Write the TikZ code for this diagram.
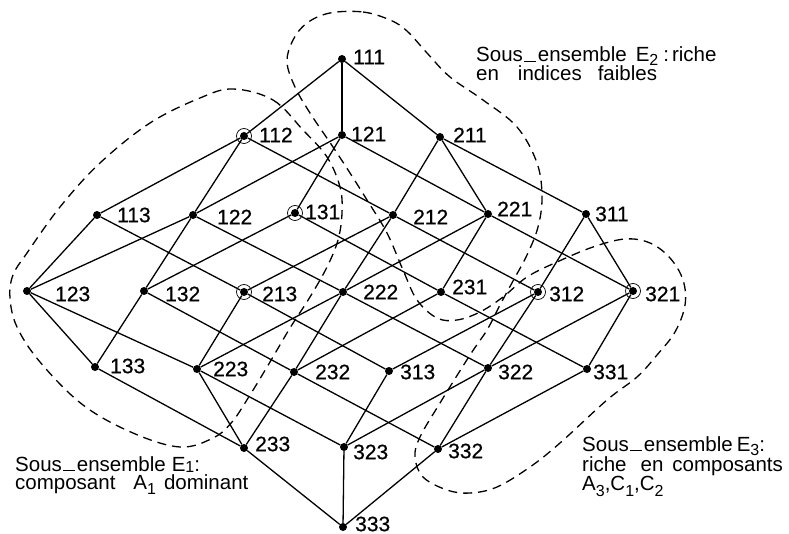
\documentclass[tikz,border=0pt]{standalone}
\usepackage{fontspec}
\newfontfamily\heros{Liberation Sans}
\newfontfamily\herosdark[FakeBold=0.6]{Liberation Sans}
% lowered index digit used in the set names (optional drop)
\newcommand\lowidx[2][5pt]{\raisebox{-#1}[0pt][0pt]{\fontsize{16pt}{16pt}\selectfont #2}}
% short dash sitting on the baseline, as in Sous-ensemble
\newcommand\lowdash{\kern1.5pt\rule{12pt}{1.2pt}\kern1.5pt}
\begin{document}
\begin{tikzpicture}[x=1pt,y=-1pt,
  dot/.style={circle,fill=black,inner sep=0pt,minimum size=8pt},
  ring/.style={line width=0.7pt},
  edge/.style={line width=1.3pt},
  lbl/.style={anchor=west,inner sep=0pt,font=\herosdark\fontsize{21pt}{24pt}\selectfont},
  note/.style={anchor=base west,inner sep=0pt,text height=11pt,text depth=0pt,
    font=\heros\fontsize{20.5pt}{24pt}\selectfont},
  region/.style={line width=1.3pt,dash pattern=on 9pt off 6pt}]
\useasboundingbox (0,0) rectangle (789,534);

% lattice points and their labels
\foreach \n/\x/\y/\lx/\ly in {
  111/342/59/353/57,
  112/244/136/259/135, 121/342/135/351/134, 211/440/137/453/135,
  113/97/215/117/215, 122/193/215/217/217, 131/295/213/305/212,
  212/393/215/413/217, 221/488/214/497/209, 311/586/214/595/214,
  123/27/291/55/294, 132/144/291/165/294, 213/244/292/262/294,
  222/343/292/363/292, 231/441/292/452/287, 312/538/292/549/294,
  321/633/291/645/294,
  133/95/367/110/366, 223/197/369/213/369, 232/294/372/315/372,
  313/389/371/400/372, 322/488/368/498/372, 331/587/369/593/372,
  233/244/448/255/444, 323/344/447/353/452, 332/438/449/448/451,
  333/343/527/355/524}{
  \node[dot] (n\n) at (\x,\y) {};
  \node[lbl] (l\n) at (\lx,\ly) {\n};
}

% covering relations of the product order 3x3x3
\foreach \i in {1,2,3}{\foreach \j in {1,2,3}{\foreach \k in {1,2,3}{
  \pgfmathtruncatemacro\ia{\i+1}
  \pgfmathtruncatemacro\ja{\j+1}
  \pgfmathtruncatemacro\ka{\k+1}
  \ifnum\i<3 \draw[edge] (n\i\j\k) -- (n\ia\j\k);\fi
  \ifnum\j<3 \draw[edge] (n\i\j\k) -- (n\i\ja\k);\fi
  \ifnum\k<3 \draw[edge] (n\i\j\k) -- (n\i\j\ka);\fi
}}}

% marked points
\foreach \n in {112,131,213,312,321}
  \draw[ring] (n\n.center) circle (7.5pt);

% subset E1
\draw[region] plot[smooth cycle,tension=0.6] coordinates {
  (233,89) (273,100) (303,130) (327,157) (340,187) (342,213) (338,240)
  (327,267) (310,297) (290,328) (270,362) (250,395) (232,422) (213,438)
  (180,447) (133,433) (83,405) (40,362) (17,327) (10,298) (13,275)
  (27,253) (60,207) (100,163) (150,123) (200,98)};

% subsets E2 (upper loop) and E3 (lower loop), one crossing curve
\draw[region] plot[smooth cycle,tension=0.6] coordinates {
  (330,13) (363,12) (390,20) (407,31) (427,53) (450,77) (483,100)
  (517,127) (537,163) (542,197) (538,227) (527,255) (513,281) (500,305)
  (487,330) (470,355) (440,403) (420,437) (415,457) (423,477) (447,490)
  (470,493) (497,487) (530,467) (560,443) (607,400) (637,377) (657,355)
  (675,332) (685,305) (683,280) (670,258) (650,243) (625,239) (593,247)
  (557,262) (527,277) (503,297) (480,312) (457,320) (437,318) (417,300)
  (403,270) (387,233) (367,200) (350,173) (333,147) (310,113) (295,87)
  (287,62) (293,40) (307,23)};

% set descriptions
\node[note] (e2a) at (476,62) {Sous\lowdash ensemble\hspace{9pt}E\lowidx[4pt]{2}\hspace{5pt}:\hspace{3pt}riche};
\node[note] (e2b) at (476,81) {en\hspace{19pt}indices\hspace{16pt}faibles};

\node[note] (e1a) at (15,471) {Sous\lowdash ensemble\hspace{6pt}E\lowidx[1.5pt]{1}:};
\node[note] (e1b) at (15,489) {composant\hspace{18pt}A\lowidx[5pt]{1}\hspace{8pt}dominant};

\node[note] (e3a) at (582,451) {Sous\lowdash ensemble\hspace{4pt}E\lowidx[4pt]{3}:};
\node[note] (e3b) at (582,471) {riche\hspace{14pt}en\hspace{9pt}composants};
\node[note] (e3c) at (582,490) {A\lowidx[6pt]{3},C\lowidx[6pt]{1},C\lowidx[6pt]{2}};
\end{tikzpicture}
\end{document}
